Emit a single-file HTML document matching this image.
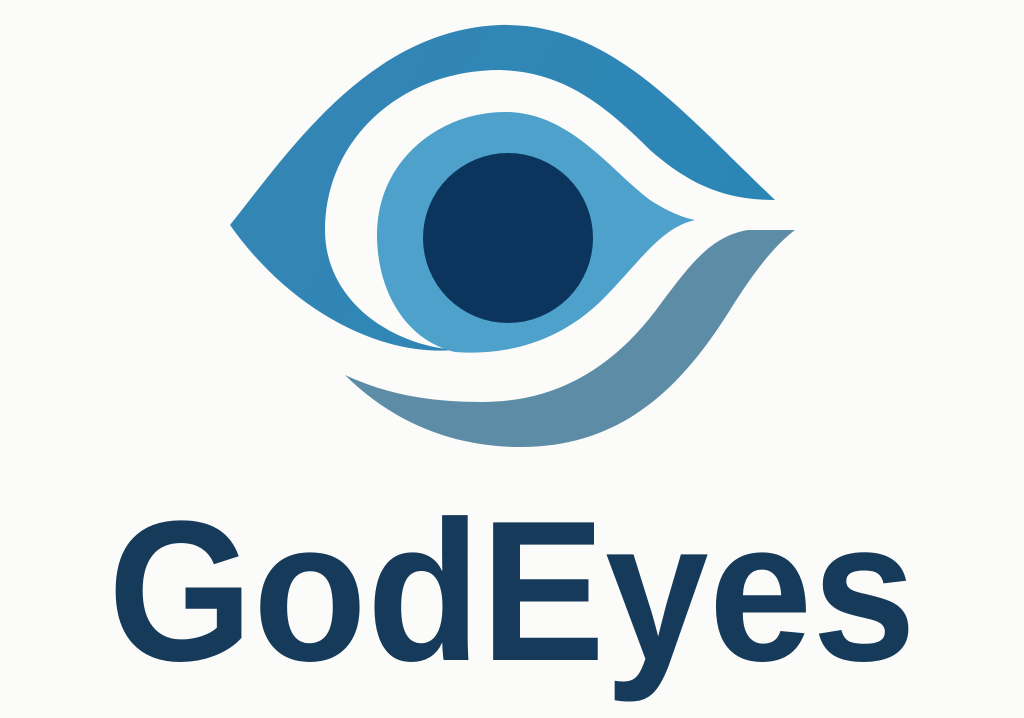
<!DOCTYPE html>
<html><head><meta charset="utf-8"><style>
html,body{margin:0;padding:0;background:#fbfbfa;}
svg{display:block;}
</style></head><body>
<svg width="1024" height="718" viewBox="0 0 1024 718">
<defs>
<linearGradient id="gOuter" x1="0" y1="0" x2="1" y2="0.3">
<stop offset="0" stop-color="#3585b4"/><stop offset="1" stop-color="#2b86b6"/>
</linearGradient>
</defs>
<rect width="1024" height="718" fill="#fbfbfa"/>
<path fill="url(#gOuter)"
 d="M230,225 C290,150 370,30 500,25 C610,22 680,110 775,200 C725,200 690,185 650,150 C600,100 560,72 500,70 C400,70 325,140 325,230 C325,300 390,345 455,350 C380,357 290,310 230,225 Z"/>
<path fill="#4da1cb"
 d="M455,352 C405,340 377,290 377,235 C377,160 440,112 505,112 C570,112 610,170 650,200 C670,213 685,218 695,220 C660,228 640,262 600,302 C560,340 510,356 455,352 Z"/>
<circle cx="508" cy="238" r="85" fill="#0b355c"/>
<path fill="#5c8ca6"
 d="M345,375 C390,420 450,447 520,447 C620,447 680,390 730,310 C755,270 775,245 795,230 L748,230 C712,236 692,262 662,302 C612,372 552,402 482,402 C422,402 382,392 345,375 Z"/>
<text x="108" y="660" textLength="808" lengthAdjust="spacingAndGlyphs"
 font-family="Liberation Sans, sans-serif" font-weight="bold" font-size="200" fill="#163a5a">GodEyes</text>
</svg>
</body></html>
